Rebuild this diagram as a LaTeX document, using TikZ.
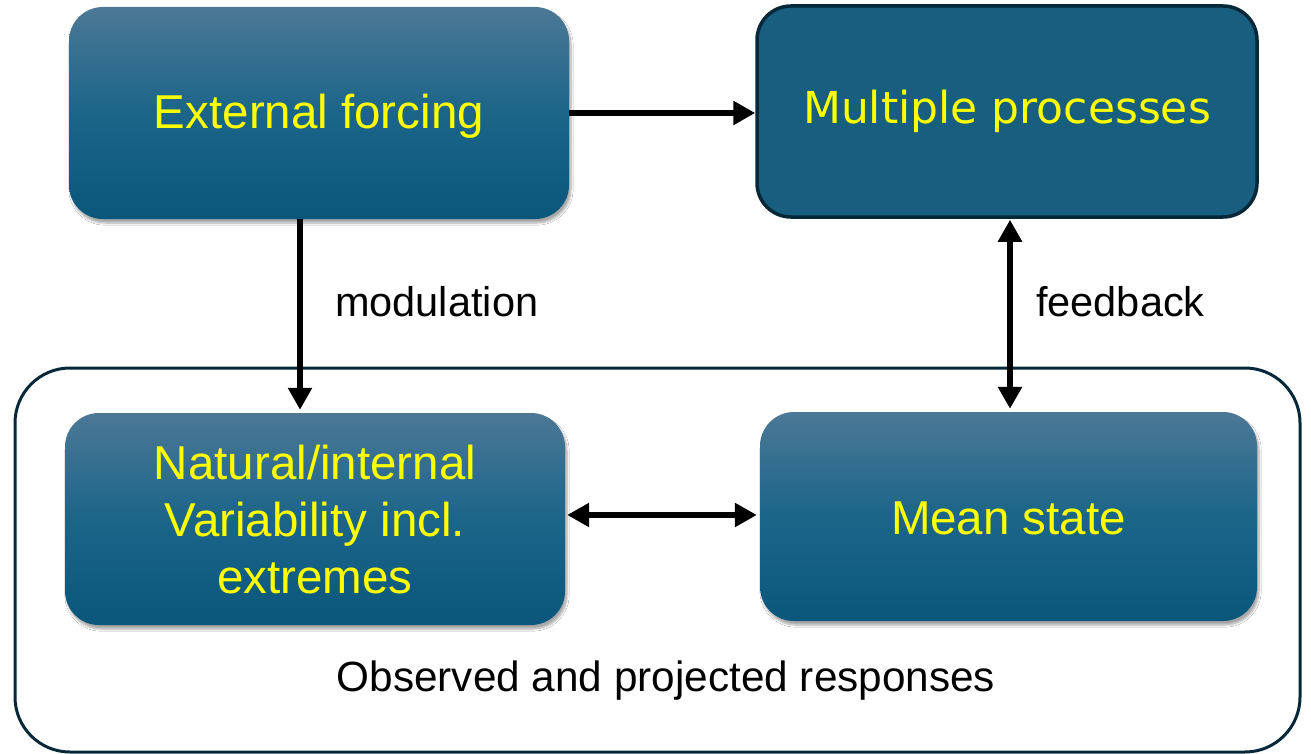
\documentclass[tikz,border=0pt]{standalone}
\usepackage{fontspec}
\setmainfont{Liberation Sans}
\newfontfamily\tahomalike{DejaVu Sans}
\usetikzlibrary{arrows.meta,shadows.blur,calc}
\definecolor{boxtop}{HTML}{4C7896}
\definecolor{boxmid}{HTML}{1B6589}
\definecolor{boxbot}{HTML}{0A577B}
\definecolor{boxflat}{HTML}{175E7F}
\definecolor{edgedark}{HTML}{062838}
\definecolor{textyellow}{HTML}{FFFF00}
\tikzset{
  gradbox/.style={rounded corners=34pt, top color=boxtop, bottom color=boxbot,
    middle color=boxmid, minimum width=500pt, minimum height=212pt,
    inner sep=0pt, text=textyellow, align=center,
    font=\fontsize{47.5}{57}\selectfont,
    blur shadow={shadow xshift=2pt, shadow yshift=-4pt, shadow blur steps=8,
      shadow blur extra rounding=4pt, shadow opacity=35}},
  flatbox/.style={rounded corners=34pt, fill=boxflat, draw=edgedark,
    line width=3.5pt, minimum width=500pt, minimum height=211pt,
    inner sep=0pt, text=textyellow, align=center,
    font=\tahomalike\fontsize{44}{52}\selectfont},
  lbl/.style={inner sep=0pt, text=black, font=\fontsize{41.5}{48}\selectfont},
  arr/.style={line width=6pt, -{Triangle[length=22pt,width=23pt]}},
  dblarr/.style={line width=6pt, {Triangle[length=22pt,width=23pt]}-{Triangle[length=22pt,width=23pt]}}
}
\begin{document}
\begin{tikzpicture}[x=1pt,y=1pt]
  \useasboundingbox (0,0) rectangle (1311,-754);
  \fill[white] (0,0) rectangle (1311,-754);

  % enclosing frame for the responses
  \draw[edgedark, line width=3pt, rounded corners=55pt] (15,-368) rectangle (1300,-752);

  % boxes
  \node[gradbox, text depth=3pt] (ef) at (319,-113) {External forcing};
  \node[flatbox] (mp) at (1007,-111.5) {Multiple processes};
  \node[gradbox] (nat) at (315,-519) {\raisebox{-6pt}[\height][\depth]{\begin{tabular}{@{}c@{}}Natural/internal\\Variability incl.\\extremes\end{tabular}}};
  \node[gradbox, minimum width=497pt, minimum height=209pt] (ms) at (1008.5,-516.5) {\raisebox{-2pt}[\height][\depth]{Mean state}};

  % connectors
  \draw[arr] (ef.east) -- (ef.east -| mp.west);
  \draw[arr, shorten >=3pt] ($(ef.south)+(-19,0)$) -- ($(nat.north)+(-15,0)$);
  \draw[dblarr, shorten <=1pt, shorten >=3pt] ($(mp.south)+(3,0)$) -- ($(ms.north)+(1.5,0)$);
  \draw[dblarr, shorten <=2pt, shorten >=3pt] ($(nat.east)+(0,4)$) -- ($(ms.west)+(0,1.5)$);

  % labels
  \node[lbl, anchor=west] (modlbl) at (335,-302) {modulation};
  \node[lbl, anchor=west] (fblbl) at (1036,-302) {feedback};
  \node[lbl, font=\fontsize{42.3}{48}\selectfont] (resp) at (666,-681) {Observed and projected responses};
\end{tikzpicture}
\end{document}
